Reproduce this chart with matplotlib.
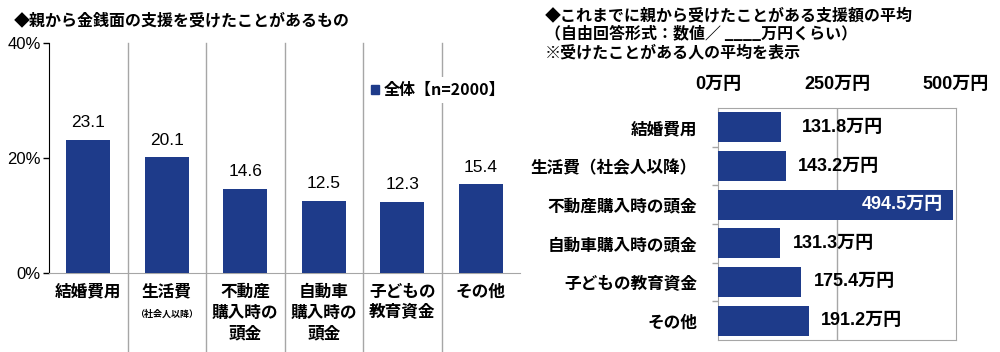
import matplotlib
matplotlib.use("Agg")
import matplotlib.pyplot as plt
from matplotlib.patches import Rectangle

plt.rcParams['font.family'] = ['Noto Sans CJK JP', 'DejaVu Sans']

# ---------------- data ----------------
left_title = "◆親から金銭面の支援を受けたことがあるもの"
left_categories = ["結婚費用", "生活費", "不動産\n購入時の\n頭金", "自動車\n購入時の\n頭金", "子どもの\n教育資金", "その他"]
left_sub = ["", "（社会人以降）", "", "", "", ""]
left_values = [23.1, 20.1, 14.6, 12.5, 12.3, 15.4]
left_ticks = [0, 20, 40]
left_ticklabels = ["0%", "20%", "40%"]
legend_label = "全体【n=2000】"

right_title = ["◆これまでに親から受けたことがある支援額の平均",
               "（自由回答形式：数値／ ____万円くらい）",
               "※受けたことがある人の平均を表示"]
right_categories = ["結婚費用", "生活費（社会人以降）", "不動産購入時の頭金",
                    "自動車購入時の頭金", "子どもの教育資金", "その他"]
right_values = [131.8, 143.2, 494.5, 131.3, 175.4, 191.2]
right_ticks = [0, 250, 500]
right_ticklabels = ["0万円", "250万円", "500万円"]

BAR = "#1E3B8A"
GRAY = "#A6A6A6"
NUMF = ['Liberation Sans', 'Noto Sans CJK JP']

fig = plt.figure(figsize=(10, 3.52), dpi=100)
W, H = 1000, 352

def px_axes(l, t, r, b):
    return fig.add_axes([l / W, 1 - b / H, (r - l) / W, (b - t) / H])

# ---------------- left chart ----------------
ax = px_axes(49, 43, 520, 273)
x = list(range(len(left_values)))
ax.bar(x, left_values, width=0.56, color=BAR, zorder=3)
ax.set_xlim(-0.5, len(left_values) - 0.5)
ax.set_ylim(0, 40)
ax.set_yticks(left_ticks)
ax.set_yticklabels(left_ticklabels, family=NUMF, fontsize=12)
ax.tick_params(axis='y', length=4, width=1, color='black', pad=2)
ax.set_xticks([])
for s in ['top', 'right']:
    ax.spines[s].set_visible(False)
ax.spines['left'].set_color('black')
ax.spines['bottom'].set_color(GRAY)
for b in [i + 0.5 for i in range(len(left_values) - 1)]:
    ax.axvline(b, ymin=-0.345, ymax=1.0, color=GRAY, lw=1, clip_on=False, zorder=1)
for i, v in enumerate(left_values):
    ax.annotate(f"{v:.1f}", (i, v), xytext=(0, 12.5), textcoords='offset points',
                ha='center', va='center', fontsize=12.5, family=NUMF)
for i, (c, s) in enumerate(zip(left_categories, left_sub)):
    ax.annotate(c, (i, 0), xytext=(0, -7), textcoords='offset points',
                ha='center', va='top', fontsize=12, fontweight='bold', linespacing=1.2)
    if s:
        ax.annotate(s, (i, 0), xytext=(0, -26), textcoords='offset points',
                    ha='center', va='top', fontsize=6.5, fontweight='bold')
fig.text(14 / W, 1 - 20 / H, left_title, fontsize=11.5, fontweight='bold', va='center', ha='left')
h = Rectangle((0, 0), 1, 1, color=BAR)
leg = ax.legend([h], [legend_label], loc='center left',
                bbox_to_anchor=((358 - 49) / 471, (273 - 90) / 230),
                frameon=True, framealpha=1, edgecolor='none', facecolor='white',
                handlelength=0.5, handleheight=0.5, handletextpad=0.3,
                borderpad=0.3, prop={'size': 11.5, 'weight': 'bold'})
leg.set_zorder(10)

# ---------------- right chart ----------------
ax2 = px_axes(718, 108, 956, 340)
y = list(range(len(right_values)))
ax2.barh(y, right_values, height=0.77, color=BAR, zorder=3)
ax2.set_xlim(0, 500)
ax2.set_ylim(len(right_values) - 0.5, -0.5)
ax2.set_xticks(right_ticks)
ax2.xaxis.tick_top()
ax2.set_xticklabels(right_ticklabels, fontsize=13, fontweight='bold', family=NUMF)
ax2.tick_params(axis='x', length=0, pad=11)
ax2.set_yticks(y)
ax2.set_yticklabels(right_categories, fontsize=12, fontweight='bold')
ax2.tick_params(axis='y', which='major', length=0, pad=15)
ax2.set_yticks([i + 0.5 for i in range(len(right_values) - 1)], minor=True)
ax2.tick_params(axis='y', which='minor', length=4, color=GRAY, width=1)
for s in ax2.spines.values():
    s.set_color(GRAY)
ax2.axvline(250, color=GRAY, lw=1, zorder=1)
pads = [21, 12, 12, 12, 12, 12]
for i, v in enumerate(right_values):
    if v > 400:
        ax2.annotate(f"{v:.1f}万円", (v, i), xytext=(-11 * 0.72, 0), textcoords='offset points',
                     ha='right', va='center', fontsize=13, fontweight='bold',
                     family=NUMF, color='white')
    else:
        ax2.annotate(f"{v:.1f}万円", (v, i), xytext=(pads[i] * 0.72, 0), textcoords='offset points',
                     ha='left', va='center', fontsize=13, fontweight='bold', family=NUMF)
for k, line in enumerate(right_title):
    fig.text(545 / W, 1 - (15 + 18.5 * k) / H, line, fontsize=11.5, fontweight='bold',
             va='center', ha='left')

fig.savefig("out.png", dpi=100)
